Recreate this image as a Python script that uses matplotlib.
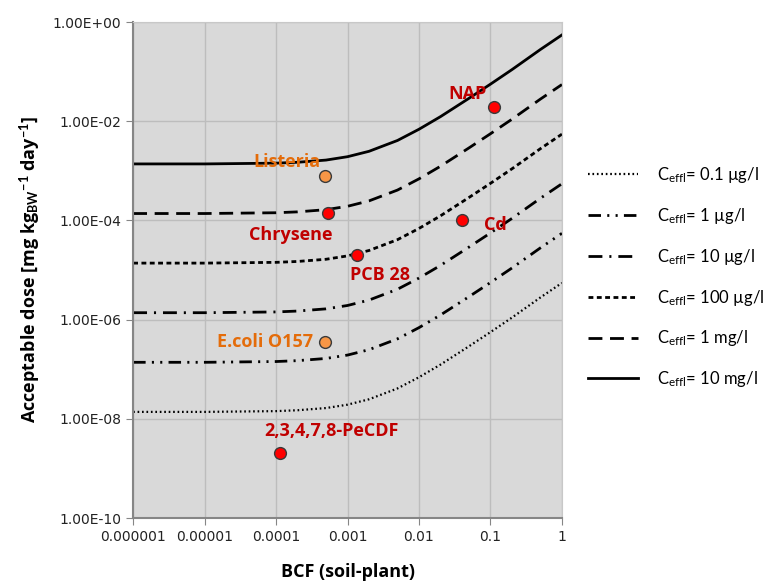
import matplotlib
matplotlib.use("Agg")
import matplotlib.pyplot as plt

plt.rcParams['lines.scale_dashes'] = False
plt.rcParams['mathtext.fontset'] = 'custom'
plt.rcParams['mathtext.rm'] = 'Lato'
plt.rcParams['mathtext.bf'] = 'Lato:bold'
plt.rcParams['mathtext.it'] = 'Lato:italic'

# BCF values (x) for the model curves
bcf = [1e-6, 1e-5, 1e-4, 2e-4, 5e-4, 1e-3, 2e-3, 5e-3, 1e-2, 2e-2, 5e-2, 0.1, 0.2, 0.5, 1]

# acceptable dose for each effluent concentration
dose_01ug = [1.38e-8, 1.38e-8, 1.43e-8, 1.49e-8, 1.65e-8, 1.93e-8, 2.48e-8, 4.1e-8,
             6.9e-8, 1.24e-7, 2.9e-7, 5.6e-7, 1.1e-6, 2.8e-6, 5.5e-6]
dose_1ug = [1.38e-7, 1.38e-7, 1.43e-7, 1.49e-7, 1.65e-7, 1.93e-7, 2.48e-7, 4.1e-7,
            6.9e-7, 1.24e-6, 2.9e-6, 5.6e-6, 1.1e-5, 2.8e-5, 5.5e-5]
dose_10ug = [1.38e-6, 1.38e-6, 1.43e-6, 1.49e-6, 1.65e-6, 1.93e-6, 2.48e-6, 4.1e-6,
             6.9e-6, 1.24e-5, 2.9e-5, 5.6e-5, 1.1e-4, 2.8e-4, 5.5e-4]
dose_100ug = [1.38e-5, 1.38e-5, 1.43e-5, 1.49e-5, 1.65e-5, 1.93e-5, 2.48e-5, 4.1e-5,
              6.9e-5, 1.24e-4, 2.9e-4, 5.6e-4, 1.1e-3, 2.8e-3, 5.5e-3]
dose_1mg = [1.38e-4, 1.38e-4, 1.43e-4, 1.49e-4, 1.65e-4, 1.93e-4, 2.48e-4, 4.1e-4,
            6.9e-4, 1.24e-3, 2.9e-3, 5.6e-3, 1.1e-2, 2.8e-2, 5.5e-2]
dose_10mg = [1.38e-3, 1.38e-3, 1.43e-3, 1.49e-3, 1.65e-3, 1.93e-3, 2.48e-3, 4.1e-3,
             6.9e-3, 1.24e-2, 2.9e-2, 5.6e-2, 0.11, 0.28, 0.55]

labels = [r'C$_{\mathregular{effl}}$= 0.1 µg/l', r'C$_{\mathregular{effl}}$= 1 µg/l',
          r'C$_{\mathregular{effl}}$= 10 µg/l', r'C$_{\mathregular{effl}}$= 100 µg/l',
          r'C$_{\mathregular{effl}}$= 1 mg/l', r'C$_{\mathregular{effl}}$= 10 mg/l']

# substances
sub_names = ['NAP', 'Listeria', 'Chrysene', 'PCB 28', 'Cd', 'E.coli O157', '2,3,4,7,8-PeCDF']
sub_bcf = [0.112, 4.9e-4, 5.4e-4, 1.35e-3, 0.04, 4.9e-4, 1.15e-4]
sub_dose = [0.0194, 7.9e-4, 1.4e-4, 2.0e-5, 1.0e-4, 3.5e-7, 2.0e-9]
sub_kind = ['chem', 'path', 'chem', 'chem', 'chem', 'path', 'chem']

xticks = [1e-6, 1e-5, 1e-4, 1e-3, 1e-2, 1e-1, 1]
xticklabels = ['0.000001', '0.00001', '0.0001', '0.001', '0.01', '0.1', '1']
yticks = [1e-10, 1e-8, 1e-6, 1e-4, 1e-2, 1]
yticklabels = ['1.00E-10', '1.00E-08', '1.00E-06', '1.00E-04', '1.00E-02', '1.00E+00']

fig = plt.figure(figsize=(7.74, 5.81), dpi=100)
ax = fig.add_axes([0.172, 0.1084, 0.554, 0.8536])
ax.set_facecolor('#d9d9d9')
ax.set_xscale('log')
ax.set_yscale('log')
ax.set_xlim(1e-6, 1)
ax.set_ylim(1e-10, 1)

ax.plot(bcf, dose_01ug, color='black', lw=1.6, dashes=(1.2, 2.0), label=labels[0])
ax.plot(bcf, dose_1ug, color='black', lw=2, dashes=(9, 4.5, 1.5, 4.5, 1.5, 4.5), label=labels[1])
ax.plot(bcf, dose_10ug, color='black', lw=2, dashes=(10, 5, 1.5, 5), label=labels[2])
ax.plot(bcf, dose_100ug, color='black', lw=2, dashes=(3.5, 2.5), label=labels[3])
ax.plot(bcf, dose_1mg, color='black', lw=2, dashes=(10, 5.5), label=labels[4])
ax.plot(bcf, dose_10mg, color='black', lw=2, label=labels[5])

offsets = {'NAP': (-19, 9, 'center'), 'Listeria': (-28, 10, 'center'),
           'Chrysene': (-27, -16, 'center'), 'PCB 28': (17, -14, 'center'),
           'Cd': (24, -3, 'center'), 'E.coli O157': (-9, 0, 'right'),
           '2,3,4,7,8-PeCDF': (37, 16, 'center')}

for name, x, y, kind in zip(sub_names, sub_bcf, sub_dose, sub_kind):
    if kind == 'chem':
        fc, tc = '#ff0000', '#c00000'
    else:
        fc, tc = '#f79646', '#e46c0a'
    ax.plot(x, y, 'o', ms=8.5, mfc=fc, mec='#3a3a3a', mew=1, zorder=5)
    dx, dy, ha = offsets[name]
    ax.annotate(name, (x, y), xytext=(dx, dy), textcoords='offset points',
                ha=ha, va='center', color=tc, fontsize=13, fontweight='bold',
                family='Open Sans')

ax.set_xticks(xticks)
ax.set_xticklabels(xticklabels)
ax.set_yticks(yticks)
ax.set_yticklabels(yticklabels)
ax.minorticks_off()
ax.grid(True, color='#bdbdbd', lw=1)
ax.set_axisbelow(True)
ax.tick_params(direction='out', length=5, color='#868686', labelsize=10, labelcolor='#222222')
for s in ['left', 'bottom']:
    ax.spines[s].set_color('#868686')
    ax.spines[s].set_linewidth(1.5)
for s in ['top', 'right']:
    ax.spines[s].set_color('#c8c8c8')

ax.set_xlabel('BCF (soil-plant)', fontsize=13, fontweight='bold', family='Open Sans', labelpad=14)
ax.set_ylabel(r'Acceptable dose [mg kg$_{\mathbf{BW}}$$^{\mathbf{-1}}$ day$^{\mathbf{-1}}$]',
              fontsize=13, fontweight='bold', family='Open Sans', labelpad=8)

fig.legend(loc='upper left', bbox_to_anchor=(0.760, 0.716), frameon=False,
           prop={'family': 'Lato', 'size': 12}, handlelength=3.0,
           handletextpad=1.1, labelspacing=1.25, borderpad=0, borderaxespad=0)

fig.savefig('out.png', dpi=100)
